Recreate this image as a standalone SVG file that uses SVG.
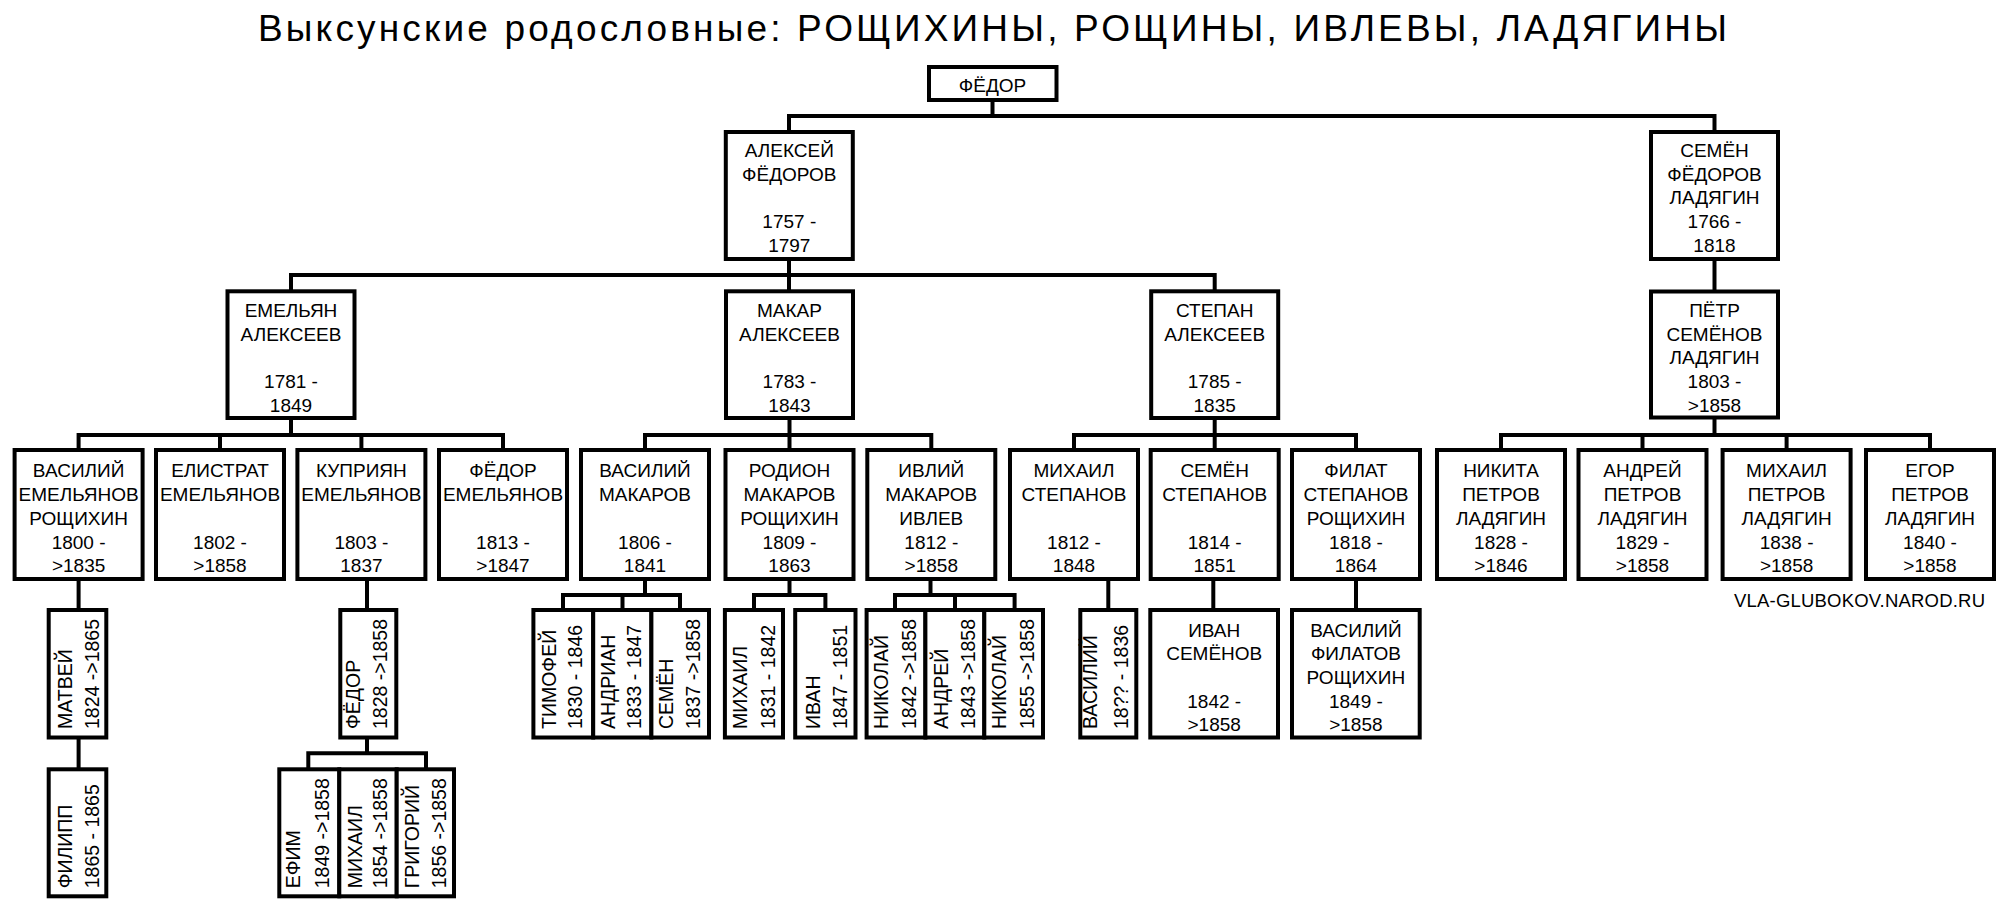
<svg xmlns="http://www.w3.org/2000/svg" width="2009" height="913" viewBox="0 0 2009 913">
<style>
.box{fill:#fff;stroke:#000;stroke-width:4}
.t{font-family:"Liberation Sans",Arial,sans-serif;font-size:19px;text-anchor:middle;fill:#000}
.r{font-family:"Liberation Sans",Arial,sans-serif;font-size:19.5px;text-anchor:start;fill:#000}
.conn path{fill:none;stroke:#000;stroke-width:4;stroke-linejoin:miter}
.title{font-family:"Liberation Sans",Arial,sans-serif;font-size:37px;fill:#000}
.wm{font-family:"Liberation Sans",Arial,sans-serif;font-size:18.5px;fill:#000}
</style>
<rect x="0" y="0" width="2009" height="913" fill="#fff"/>
<text class="title" x="258" y="41" textLength="1469" lengthAdjust="spacing">Выксунские родословные: РОЩИХИНЫ, РОЩИНЫ, ИВЛЕВЫ, ЛАДЯГИНЫ</text>
<text class="wm" x="1734" y="607" textLength="251" lengthAdjust="spacing">VLA-GLUBOKOV.NAROD.RU</text>

<g class="conn" id="connectors">
<path d="M992.5 101 V116"/>
<path d="M789 132 V116 H1714.5 V132"/>
<path d="M789 259 V291"/>
<path d="M291 291 V275 H1214.7 V291"/>
<path d="M1714.5 259 V291.5"/>
<path d="M291 418 V435"/>
<path d="M78.6 450 V435 H503 V450"/>
<path d="M220 435 V450"/>
<path d="M361.4 435 V450"/>
<path d="M789.5 418 V450"/>
<path d="M645 450 V435 H931.3 V450"/>
<path d="M1214.7 418 V450"/>
<path d="M1074 450 V435 H1356 V450"/>
<path d="M1714.5 417.5 V435"/>
<path d="M1501 450 V435 H1930 V450"/>
<path d="M1642.5 435 V450"/>
<path d="M1786.6 435 V450"/>
<path d="M78.6 579 V610"/>
<path d="M367 579 V610"/>
<path d="M645 579 V595"/>
<path d="M563 610 V595 H680 V610"/>
<path d="M622.5 595 V610"/>
<path d="M789.5 579 V595"/>
<path d="M754 610 V595 H825.4 V610"/>
<path d="M930.5 579 V595"/>
<path d="M895 610 V595 H1014.6 V610"/>
<path d="M955 595 V610"/>
<path d="M1108.3 579 V610"/>
<path d="M1213.3 579 V610"/>
<path d="M1356 579 V610"/>
<path d="M78.6 737.5 V769.3"/>
<path d="M367 737.5 V753.3"/>
<path d="M308.3 769.3 V753.3 H426 V769.3"/>
</g>

<g id="n-fedor">
<rect class="box" x="929" y="67" width="127.5" height="33"/>
<text class="t" x="992.5" y="92">ФЁДОР</text>
</g>

<g id="n-aleksey">
<rect class="box" x="725.8" y="132" width="127" height="127"/>
<text class="t"><tspan x="789.3" y="157">АЛЕКСЕЙ</tspan><tspan x="789.3" y="180.5">ФЁДОРОВ</tspan><tspan x="789.3" y="228">1757 -</tspan><tspan x="789.3" y="251.5">1797</tspan></text>
</g>
<g id="n-semen-f">
<rect class="box" x="1651" y="132" width="127" height="127"/>
<text class="t"><tspan x="1714.5" y="157">СЕМЁН</tspan><tspan x="1714.5" y="180.5">ФЁДОРОВ</tspan><tspan x="1714.5" y="204">ЛАДЯГИН</tspan><tspan x="1714.5" y="228">1766 -</tspan><tspan x="1714.5" y="251.5">1818</tspan></text>
</g>

<g id="n-emelyan">
<rect class="box" x="227.5" y="291.3" width="127" height="126.7"/>
<text class="t"><tspan x="291" y="317">ЕМЕЛЬЯН</tspan><tspan x="291" y="340.5">АЛЕКСЕЕВ</tspan><tspan x="291" y="388">1781 -</tspan><tspan x="291" y="411.5">1849</tspan></text>
</g>
<g id="n-makar">
<rect class="box" x="726" y="291.3" width="127" height="126.7"/>
<text class="t"><tspan x="789.5" y="317">МАКАР</tspan><tspan x="789.5" y="340.5">АЛЕКСЕЕВ</tspan><tspan x="789.5" y="388">1783 -</tspan><tspan x="789.5" y="411.5">1843</tspan></text>
</g>
<g id="n-stepan">
<rect class="box" x="1151.2" y="291.3" width="127" height="126.7"/>
<text class="t"><tspan x="1214.7" y="317">СТЕПАН</tspan><tspan x="1214.7" y="340.5">АЛЕКСЕЕВ</tspan><tspan x="1214.7" y="388">1785 -</tspan><tspan x="1214.7" y="411.5">1835</tspan></text>
</g>
<g id="n-petr">
<rect class="box" x="1651" y="291.5" width="127" height="126"/>
<text class="t"><tspan x="1714.5" y="317">ПЁТР</tspan><tspan x="1714.5" y="340.5">СЕМЁНОВ</tspan><tspan x="1714.5" y="364">ЛАДЯГИН</tspan><tspan x="1714.5" y="388">1803 -</tspan><tspan x="1714.5" y="411.5">&gt;1858</tspan></text>
</g>

<g id="n-vasiliy-e">
<rect class="box" x="14.6" y="450" width="128" height="129"/>
<text class="t"><tspan x="78.6" y="477">ВАСИЛИЙ</tspan><tspan x="78.6" y="501">ЕМЕЛЬЯНОВ</tspan><tspan x="78.6" y="525">РОЩИХИН</tspan><tspan x="78.6" y="548.5">1800 -</tspan><tspan x="78.6" y="571.5">&gt;1835</tspan></text>
</g>
<g id="n-elistrat">
<rect class="box" x="156" y="450" width="128" height="129"/>
<text class="t"><tspan x="220" y="477">ЕЛИСТРАТ</tspan><tspan x="220" y="501">ЕМЕЛЬЯНОВ</tspan><tspan x="220" y="548.5">1802 -</tspan><tspan x="220" y="571.5">&gt;1858</tspan></text>
</g>
<g id="n-kupriyan">
<rect class="box" x="297.4" y="450" width="128" height="129"/>
<text class="t"><tspan x="361.4" y="477">КУПРИЯН</tspan><tspan x="361.4" y="501">ЕМЕЛЬЯНОВ</tspan><tspan x="361.4" y="548.5">1803 -</tspan><tspan x="361.4" y="571.5">1837</tspan></text>
</g>
<g id="n-fedor-e">
<rect class="box" x="439" y="450" width="128" height="129"/>
<text class="t"><tspan x="503" y="477">ФЁДОР</tspan><tspan x="503" y="501">ЕМЕЛЬЯНОВ</tspan><tspan x="503" y="548.5">1813 -</tspan><tspan x="503" y="571.5">&gt;1847</tspan></text>
</g>
<g id="n-vasiliy-m">
<rect class="box" x="581" y="450" width="128" height="129"/>
<text class="t"><tspan x="645" y="477">ВАСИЛИЙ</tspan><tspan x="645" y="501">МАКАРОВ</tspan><tspan x="645" y="548.5">1806 -</tspan><tspan x="645" y="571.5">1841</tspan></text>
</g>
<g id="n-rodion">
<rect class="box" x="725.5" y="450" width="128" height="129"/>
<text class="t"><tspan x="789.5" y="477">РОДИОН</tspan><tspan x="789.5" y="501">МАКАРОВ</tspan><tspan x="789.5" y="525">РОЩИХИН</tspan><tspan x="789.5" y="548.5">1809 -</tspan><tspan x="789.5" y="571.5">1863</tspan></text>
</g>
<g id="n-ivliy">
<rect class="box" x="867.3" y="450" width="128" height="129"/>
<text class="t"><tspan x="931.3" y="477">ИВЛИЙ</tspan><tspan x="931.3" y="501">МАКАРОВ</tspan><tspan x="931.3" y="525">ИВЛЕВ</tspan><tspan x="931.3" y="548.5">1812 -</tspan><tspan x="931.3" y="571.5">&gt;1858</tspan></text>
</g>
<g id="n-mikhail-s">
<rect class="box" x="1010" y="450" width="128" height="129"/>
<text class="t"><tspan x="1074" y="477">МИХАИЛ</tspan><tspan x="1074" y="501">СТЕПАНОВ</tspan><tspan x="1074" y="548.5">1812 -</tspan><tspan x="1074" y="571.5">1848</tspan></text>
</g>
<g id="n-semen-s">
<rect class="box" x="1150.7" y="450" width="128" height="129"/>
<text class="t"><tspan x="1214.7" y="477">СЕМЁН</tspan><tspan x="1214.7" y="501">СТЕПАНОВ</tspan><tspan x="1214.7" y="548.5">1814 -</tspan><tspan x="1214.7" y="571.5">1851</tspan></text>
</g>
<g id="n-filat">
<rect class="box" x="1292" y="450" width="128" height="129"/>
<text class="t"><tspan x="1356" y="477">ФИЛАТ</tspan><tspan x="1356" y="501">СТЕПАНОВ</tspan><tspan x="1356" y="525">РОЩИХИН</tspan><tspan x="1356" y="548.5">1818 -</tspan><tspan x="1356" y="571.5">1864</tspan></text>
</g>
<g id="n-nikita">
<rect class="box" x="1437" y="450" width="128" height="129"/>
<text class="t"><tspan x="1501" y="477">НИКИТА</tspan><tspan x="1501" y="501">ПЕТРОВ</tspan><tspan x="1501" y="525">ЛАДЯГИН</tspan><tspan x="1501" y="548.5">1828 -</tspan><tspan x="1501" y="571.5">&gt;1846</tspan></text>
</g>
<g id="n-andrey-p">
<rect class="box" x="1578.5" y="450" width="128" height="129"/>
<text class="t"><tspan x="1642.5" y="477">АНДРЕЙ</tspan><tspan x="1642.5" y="501">ПЕТРОВ</tspan><tspan x="1642.5" y="525">ЛАДЯГИН</tspan><tspan x="1642.5" y="548.5">1829 -</tspan><tspan x="1642.5" y="571.5">&gt;1858</tspan></text>
</g>
<g id="n-mikhail-p">
<rect class="box" x="1722.6" y="450" width="128" height="129"/>
<text class="t"><tspan x="1786.6" y="477">МИХАИЛ</tspan><tspan x="1786.6" y="501">ПЕТРОВ</tspan><tspan x="1786.6" y="525">ЛАДЯГИН</tspan><tspan x="1786.6" y="548.5">1838 -</tspan><tspan x="1786.6" y="571.5">&gt;1858</tspan></text>
</g>
<g id="n-egor">
<rect class="box" x="1866" y="450" width="128" height="129"/>
<text class="t"><tspan x="1930" y="477">ЕГОР</tspan><tspan x="1930" y="501">ПЕТРОВ</tspan><tspan x="1930" y="525">ЛАДЯГИН</tspan><tspan x="1930" y="548.5">1840 -</tspan><tspan x="1930" y="571.5">&gt;1858</tspan></text>
</g>

<g id="n-matvey">
<rect class="box" x="48.7" y="610" width="57.6" height="127.5"/>
<text class="r" transform="translate(72 729) rotate(-90)">МАТВЕЙ</text>
<text class="r" transform="translate(98.7 729) rotate(-90)">1824 -&gt;1865</text>
</g>
<g id="n-filipp">
<rect class="box" x="48.7" y="769.3" width="57.6" height="127"/>
<text class="r" transform="translate(72 888.3) rotate(-90)">ФИЛИПП</text>
<text class="r" transform="translate(98.7 888.3) rotate(-90)">1865 - 1865</text>
</g>
<g id="n-fedor-k">
<rect class="box" x="340.3" y="610" width="56" height="127.5"/>
<text class="r" transform="translate(360.3 729) rotate(-90)">ФЁДОР</text>
<text class="r" transform="translate(387 729) rotate(-90)">1828 -&gt;1858</text>
</g>
<g id="n-efim">
<rect class="box" x="279.3" y="769.3" width="60" height="127"/>
<text class="r" transform="translate(300.3 888.3) rotate(-90)">ЕФИМ</text>
<text class="r" transform="translate(328.7 888.3) rotate(-90)">1849 -&gt;1858</text>
</g>
<g id="n-mikhail-f">
<rect class="box" x="339.3" y="769.3" width="57.4" height="127"/>
<text class="r" transform="translate(362 888.3) rotate(-90)">МИХАИЛ</text>
<text class="r" transform="translate(387 888.3) rotate(-90)">1854 -&gt;1858</text>
</g>
<g id="n-grigoriy">
<rect class="box" x="396.7" y="769.3" width="57.3" height="127"/>
<text class="r" transform="translate(418.7 888.3) rotate(-90)">ГРИГОРИЙ</text>
<text class="r" transform="translate(446.3 888.3) rotate(-90)">1856 -&gt;1858</text>
</g>
<g id="n-timofey">
<rect class="box" x="533.4" y="610" width="59.8" height="127.5"/>
<text class="r" transform="translate(556.3 729) rotate(-90)">ТИМОФЕЙ</text>
<text class="r" transform="translate(582.4 729) rotate(-90)">1830 - 1846</text>
</g>
<g id="n-andrian">
<rect class="box" x="593.2" y="610" width="58.2" height="127.5"/>
<text class="r" transform="translate(614.5 729) rotate(-90)">АНДРИАН</text>
<text class="r" transform="translate(641.3 729) rotate(-90)">1833 - 1847</text>
</g>
<g id="n-semen-v">
<rect class="box" x="651.4" y="610" width="57.6" height="127.5"/>
<text class="r" transform="translate(672.7 729) rotate(-90)">СЕМЁН</text>
<text class="r" transform="translate(700.2 729) rotate(-90)">1837 -&gt;1858</text>
</g>
<g id="n-mikhail-r">
<rect class="box" x="724.9" y="610" width="58.1" height="127.5"/>
<text class="r" transform="translate(746.6 729) rotate(-90)">МИХАИЛ</text>
<text class="r" transform="translate(775.2 729) rotate(-90)">1831 - 1842</text>
</g>
<g id="n-ivan-r">
<rect class="box" x="795.2" y="610" width="60.3" height="127.5"/>
<text class="r" transform="translate(819.9 729) rotate(-90)">ИВАН</text>
<text class="r" transform="translate(846.6 729) rotate(-90)">1847 - 1851</text>
</g>
<g id="n-nikolay-1">
<rect class="box" x="866.6" y="610" width="58.8" height="127.5"/>
<text class="r" transform="translate(887.7 729) rotate(-90)">НИКОЛАЙ</text>
<text class="r" transform="translate(916.3 729) rotate(-90)">1842 -&gt;1858</text>
</g>
<g id="n-andrey-i">
<rect class="box" x="925.4" y="610" width="58.9" height="127.5"/>
<text class="r" transform="translate(947.7 729) rotate(-90)">АНДРЕЙ</text>
<text class="r" transform="translate(975.2 729) rotate(-90)">1843 -&gt;1858</text>
</g>
<g id="n-nikolay-2">
<rect class="box" x="984.3" y="610" width="58.7" height="127.5"/>
<text class="r" transform="translate(1005.6 729) rotate(-90)">НИКОЛАЙ</text>
<text class="r" transform="translate(1034 729) rotate(-90)">1855 -&gt;1858</text>
</g>
<g id="n-vasiliy-ms">
<rect class="box" x="1080.3" y="610" width="56" height="127.5"/>
<text class="r" transform="translate(1097 729) rotate(-90)">ВАСИЛИЙ</text>
<text class="r" transform="translate(1128 729) rotate(-90)">18?? - 1836</text>
</g>
<g id="n-ivan-s">
<rect class="box" x="1150.3" y="610" width="127.7" height="127.5"/>
<text class="t"><tspan x="1214.2" y="637">ИВАН</tspan><tspan x="1214.2" y="660">СЕМЁНОВ</tspan><tspan x="1214.2" y="708">1842 -</tspan><tspan x="1214.2" y="731">&gt;1858</tspan></text>
</g>
<g id="n-vasiliy-f">
<rect class="box" x="1292" y="610" width="127.7" height="127.5"/>
<text class="t"><tspan x="1355.9" y="637">ВАСИЛИЙ</tspan><tspan x="1355.9" y="660">ФИЛАТОВ</tspan><tspan x="1355.9" y="684">РОЩИХИН</tspan><tspan x="1355.9" y="708">1849 -</tspan><tspan x="1355.9" y="731">&gt;1858</tspan></text>
</g>
</svg>
